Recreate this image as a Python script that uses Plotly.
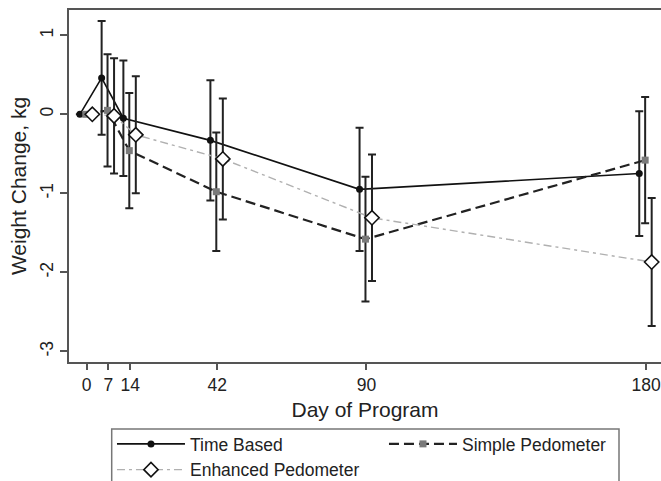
import plotly.graph_objects as go

days = [0, 7, 14, 42, 90, 180]
x_ticks = [0, 7, 14, 42, 90, 180]
y_ticks = [1, 0, -1, -2, -3]

time_based = [0.0, 0.46, -0.05, -0.33, -0.95, -0.75]
time_based_err = [0.0, 0.72, 0.73, 0.76, 0.78, 0.79]

simple_ped = [0.0, 0.05, -0.46, -0.98, -1.58, -0.58]
simple_ped_err = [0.0, 0.71, 0.73, 0.75, 0.79, 0.80]

enhanced_ped = [0.0, -0.02, -0.26, -0.565, -1.31, -1.87]
enhanced_ped_err = [0.0, 0.73, 0.74, 0.765, 0.80, 0.81]

# horizontal dodge (days) so overlapping error bars are visible
dodge = {"Time Based": -2.2, "Simple Pedometer": -0.3, "Enhanced Pedometer": 1.8}

FONT = "Liberation Sans, Arial, sans-serif"
TXT = "#222222"
FS = 17.5

fig = go.Figure()

def add(name, vals, errs, line, marker):
    fig.add_trace(go.Scatter(
        x=[d + dodge[name] for d in days], y=vals, name=name,
        mode="lines+markers", line=line, marker=marker,
        error_y=dict(type="data", array=errs, visible=True,
                     color="#222222", thickness=2, width=4),
    ))

add("Time Based", time_based, time_based_err,
    dict(color="#111111", width=1.6),
    dict(symbol="circle", size=7, color="#111111"))
add("Simple Pedometer", simple_ped, simple_ped_err,
    dict(color="#222222", width=2.2, dash="10px,5px"),
    dict(symbol="square", size=7, color="#7a7a7a"))
add("Enhanced Pedometer", enhanced_ped, enhanced_ped_err,
    dict(color="#b0b0b0", width=1.4, dash="8px,4px,3px,4px"),
    dict(symbol="diamond", size=11, color="white",
         line=dict(color="#111111", width=1.6)))

fig.update_layout(
    width=661, height=481,
    margin=dict(l=69, r=0, t=10, b=119),
    paper_bgcolor="white", plot_bgcolor="white",
    font=dict(family=FONT, size=FS, color=TXT),
    showlegend=True,
    legend=dict(
        orientation="h", x=0.0726, xanchor="left",
        yref="container", y=1 - 426 / 481, yanchor="top",
        bgcolor="rgba(0,0,0,0)", borderwidth=0,
        entrywidth=189, entrywidthmode="pixels", itemwidth=68,
        font=dict(family=FONT, size=FS, color=TXT),
        traceorder="normal",
    ),
    shapes=[dict(
        type="rect", xref="paper", yref="paper",
        x0=(111.7 - 69) / 592, x1=(619 - 69) / 592,
        y0=(362 - 429) / 352, y1=(362 - 495) / 352,
        line=dict(color="#777777", width=1.5), fillcolor="rgba(0,0,0,0)",
    )],
    xaxis=dict(
        range=[-5.7, 184.8], tickmode="array", tickvals=x_ticks,
        ticktext=[str(t) for t in x_ticks], automargin=False,
        ticks="outside", ticklen=6, tickwidth=1.5, tickcolor="#555555",
        showline=True, linecolor="#555555", linewidth=2, mirror=True,
        showgrid=False, zeroline=False,
        title=dict(text="Day of Program", standoff=8),
    ),
    yaxis=dict(
        range=[-3.135, 1.32], tickmode="array", tickvals=y_ticks,
        ticktext=[str(t) for t in y_ticks], tickangle=-90, automargin=False,
        ticks="outside", ticklen=7, tickwidth=1.5, tickcolor="#555555",
        showline=True, linecolor="#555555", linewidth=2, mirror=False,
        showgrid=False, zeroline=False,
        title=dict(text="Weight Change, kg", standoff=5),
    ),
)

fig.write_html("out.html", config={"displayModeBar": False},
               post_script="document.body.style.margin='0px';")
